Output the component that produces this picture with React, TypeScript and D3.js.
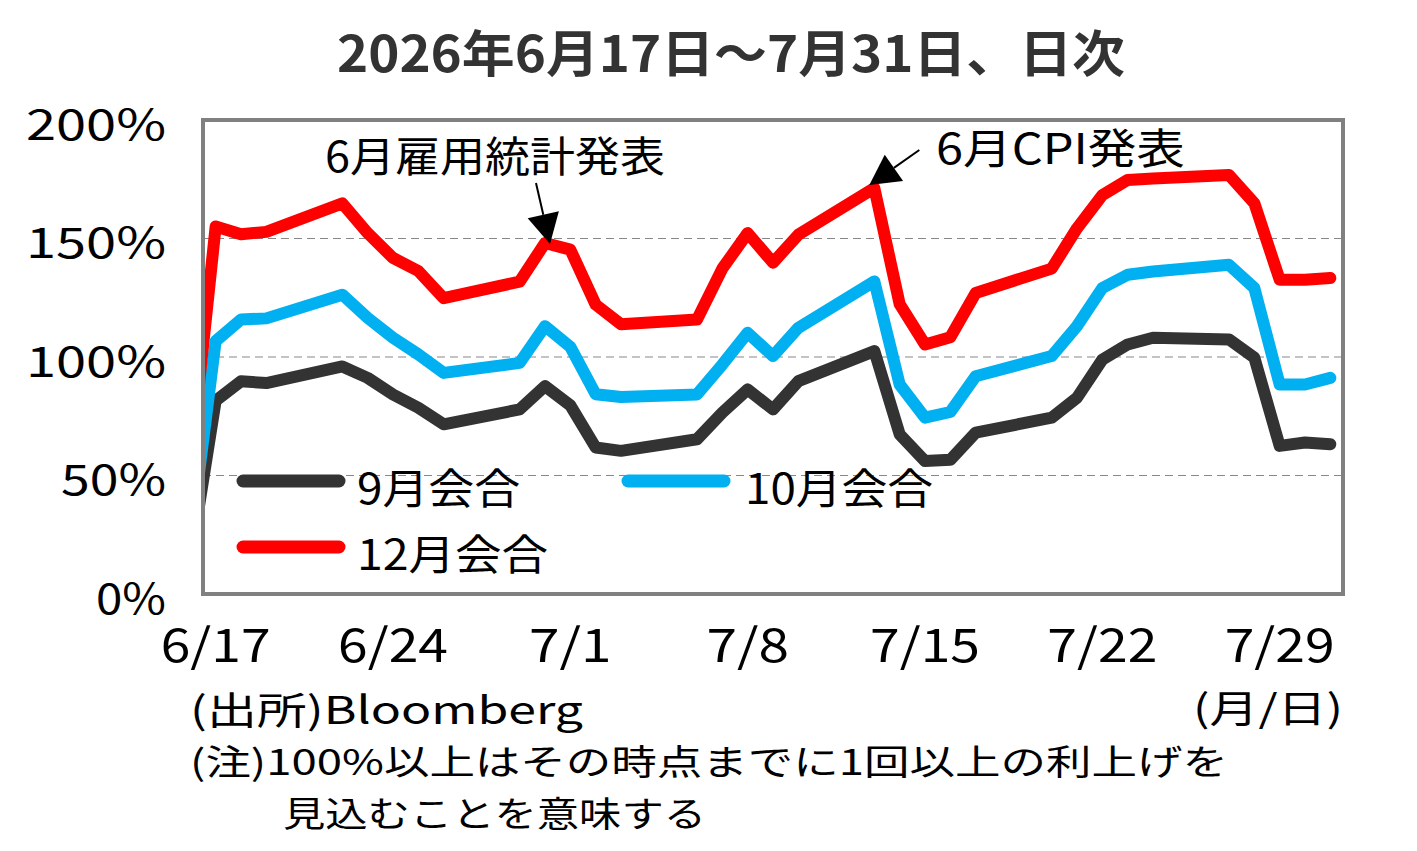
import React from "react";
import * as d3 from "d3";

// ---- data ----
const dates = [
  "2026-06-16", "2026-06-17", "2026-06-18", "2026-06-19", "2026-06-22", "2026-06-23",
  "2026-06-24", "2026-06-25", "2026-06-26", "2026-06-29", "2026-06-30", "2026-07-01",
  "2026-07-02", "2026-07-03", "2026-07-06", "2026-07-07", "2026-07-08", "2026-07-09",
  "2026-07-10", "2026-07-13", "2026-07-14", "2026-07-15", "2026-07-16", "2026-07-17",
  "2026-07-20", "2026-07-21", "2026-07-22", "2026-07-23", "2026-07-24", "2026-07-27",
  "2026-07-28", "2026-07-29", "2026-07-30", "2026-07-31",
];
const sepMeeting = [
  14, 81.5, 89.8, 89, 96, 91.2, 84.2, 78.6, 71.6, 77.9, 87.7, 79.6,
  61.8, 60.4, 65.3, 76.5, 86.3, 77.9, 89.8, 102.5, 67.4, 56.1, 56.6, 68.1,
  74.4, 82.8, 98.9, 105.3, 108.1, 107.4, 99.7, 62.5, 63.9, 63.2,
];
const octMeeting = [
  22, 106.7, 115.8, 116.3, 126.3, 116.5, 108.1, 101.1, 93.3, 97.5, 113, 104.3,
  84.3, 83.1, 84.2, 96.8, 110.2, 100.4, 112.3, 131.9, 88.4, 74.4, 76.8, 91.9,
  100.4, 113, 129.1, 134.7, 136.1, 138.9, 129.1, 88.4, 88.4, 91.2,
];
const decMeeting = [
  54, 155.1, 151.8, 152.8, 164.8, 152.3, 141.8, 136.3, 124.8, 131.8, 148.1, 145.3,
  122.1, 113.8, 115.8, 137.3, 152.3, 139.8, 151.6, 171.3, 122.3, 105.3, 108.3, 127,
  137.3, 154.3, 168.3, 174.7, 175.3, 176.8, 164.9, 132.6, 132.6, 133.3,
];
const seriesNames = ["9月会合", "10月会合", "12月会合"];
const seriesColors = ["#333333", "#00B0F0", "#FF0000"];
const xTickDates = ["2026-06-17", "2026-06-24", "2026-07-01", "2026-07-08", "2026-07-15", "2026-07-22", "2026-07-29"];
const yTicks = [0, 50, 100, 150, 200];
const gridValues = [50, 100, 150];
const periodStart = "2026-06-17";
const periodEnd = "2026-07-31";
const titleText = "2026年6月17日～7月31日、日次";
const annotations = [
  { label: "6月雇用統計発表", date: "2026-06-30" },
  { label: "6月CPI発表", date: "2026-07-13" },
];
const sourceText = "(出所)Bloomberg";
const unitText = "(月/日)";
const noteLine1 = "(注)100%以上はその時点までに1回以上の利上げを";
const noteLine2 = "見込むことを意味する";

const FONT = "'Noto Sans CJK JP', 'Noto Sans', sans-serif";

export default function App() {
  const W = 1417, H = 851;
  const plot = { left: 203, top: 120, right: 1343, bottom: 594 };
  const parse = d3.timeParse("%Y-%m-%d");
  const pd = (s: string) => parse(s) as Date;

  const x = d3
    .scaleTime()
    .domain([d3.timeHour.offset(pd(periodStart), -12), d3.timeHour.offset(pd(periodEnd), 12)])
    .range([plot.left, plot.right]);
  const y = d3.scaleLinear().domain([0, 200]).range([plot.bottom, plot.top]);

  const allSeries = [sepMeeting, octMeeting, decMeeting];
  const line = d3
    .line<number>()
    .x((_, i) => x(pd(dates[i])))
    .y((v) => y(v));

  const fmtX = d3.timeFormat("%-m/%-d");

  const arrow = (tx: number, ty: number, sx: number, sy: number) => {
    const dx = tx - sx, dy = ty - sy;
    const len = Math.hypot(dx, dy);
    const ux = dx / len, uy = dy / len;
    const hl = 30, hw = 16;
    const bx = tx - ux * hl, by = ty - uy * hl;
    const px = -uy, py = ux;
    return (
      <g>
        <line x1={sx} y1={sy} x2={bx} y2={by} stroke="#000" strokeWidth={2} />
        <polygon
          points={`${tx},${ty} ${bx + px * hw},${by + py * hw} ${bx - px * hw},${by - py * hw}`}
          fill="#000"
        />
      </g>
    );
  };

  const i1 = dates.indexOf(annotations[0].date);
  const i2 = dates.indexOf(annotations[1].date);
  const a1x = x(pd(annotations[0].date)), a1y = y(decMeeting[i1]);
  const a2x = x(pd(annotations[1].date)), a2y = y(decMeeting[i2]);

  return (
    <svg
      width={W}
      height={H}
      style={{ position: "absolute", left: 0, top: 0, background: "#fff" }}
      fontFamily={FONT}
    >
      <rect x={0} y={0} width={W} height={H} fill="#fff" />
      <defs>
        <clipPath id="plotClip">
          <rect x={plot.left} y={plot.top} width={plot.right - plot.left} height={plot.bottom - plot.top} />
        </clipPath>
      </defs>

      {/* title */}
      <text
        x={731}
        y={50}
        textAnchor="middle"
        dominantBaseline="central"
        fontSize={50}
        fontWeight="bold"
        fill="#333"
        textLength={788}
        lengthAdjust="spacingAndGlyphs"
      >
        {titleText}
      </text>

      {/* grid */}
      {gridValues.map((g) => (
        <line
          key={g}
          x1={plot.left}
          x2={plot.right}
          y1={y(g)}
          y2={y(g)}
          stroke="#888"
          strokeWidth={1.2}
          strokeDasharray="8,5"
        />
      ))}

      {/* series */}
      <g clipPath="url(#plotClip)">
        {allSeries.map((s, k) => (
          <path
            key={k}
            d={line(s) ?? ""}
            fill="none"
            stroke={seriesColors[k]}
            strokeWidth={12}
            strokeLinejoin="round"
            strokeLinecap="round"
          />
        ))}
      </g>

      {/* plot border */}
      <rect
        x={plot.left}
        y={plot.top}
        width={plot.right - plot.left}
        height={plot.bottom - plot.top}
        fill="none"
        stroke="#808080"
        strokeWidth={4}
      />

      {/* y ticks */}
      {yTicks.map((t) => {
        const label = t + "%";
        return (
          <text
            key={t}
            x={166}
            y={y(t) + 1}
            textAnchor="end"
            dominantBaseline="central"
            fontSize={42}
            fill="#000"
            textLength={label.length * 35}
            lengthAdjust="spacingAndGlyphs"
          >
            {label}
          </text>
        );
      })}

      {/* x ticks */}
      {xTickDates.map((d) => {
        const label = fmtX(pd(d));
        return (
          <text
            key={d}
            x={x(pd(d))}
            y={642}
            textAnchor="middle"
            dominantBaseline="central"
            fontSize={46}
            fill="#000"
            textLength={label.length * 27.5}
            lengthAdjust="spacingAndGlyphs"
          >
            {label}
          </text>
        );
      })}

      {/* annotations */}
      <text x={325} y={153} dominantBaseline="central" fontSize={42} fill="#000" textLength={340} lengthAdjust="spacingAndGlyphs">
        {annotations[0].label}
      </text>
      {arrow(a1x + 5, a1y + 1, a1x - 9, a1y - 60)}
      <text x={936} y={145} dominantBaseline="central" fontSize={42} fill="#000" textLength={249} lengthAdjust="spacingAndGlyphs">
        {annotations[1].label}
      </text>
      {arrow(a2x - 5, a2y - 3, a2x + 45, a2y - 38)}

      {/* legend */}
      {[
        { k: 0, lx: 243, ly: 481, tx: 357, tw: 163 },
        { k: 1, lx: 628, ly: 481, tx: 745, tw: 188 },
        { k: 2, lx: 243, ly: 547, tx: 357, tw: 191 },
      ].map((l) => (
        <g key={l.k}>
          <line
            x1={l.lx}
            x2={l.lx + 96}
            y1={l.ly}
            y2={l.ly}
            stroke={seriesColors[l.k]}
            strokeWidth={13}
            strokeLinecap="round"
          />
          <text
            x={l.tx}
            y={l.ly + 4}
            dominantBaseline="central"
            fontSize={42}
            fill="#000"
            textLength={l.tw}
            lengthAdjust="spacingAndGlyphs"
          >
            {seriesNames[l.k]}
          </text>
        </g>
      ))}

      {/* footer */}
      <text x={190} y={707} dominantBaseline="central" fontSize={38} fill="#000" textLength={393} lengthAdjust="spacingAndGlyphs">
        {sourceText}
      </text>
      <text x={1343} y={705} textAnchor="end" dominantBaseline="central" fontSize={38} fill="#000" textLength={150} lengthAdjust="spacingAndGlyphs">
        {unitText}
      </text>
      <text x={190} y={759} dominantBaseline="central" fontSize={35} fill="#000" textLength={1038} lengthAdjust="spacingAndGlyphs">
        {noteLine1}
      </text>
      <text x={283} y={811} dominantBaseline="central" fontSize={35} fill="#000" textLength={423} lengthAdjust="spacingAndGlyphs">
        {noteLine2}
      </text>
    </svg>
  );
}
